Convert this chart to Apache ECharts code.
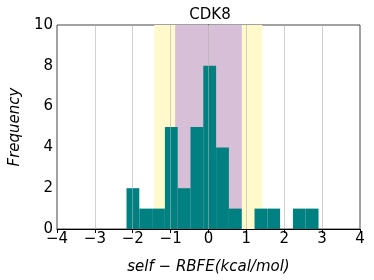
<!DOCTYPE html>
<html><head><meta charset="utf-8">
<script src="https://cdn.jsdelivr.net/npm/echarts@6/dist/echarts.min.js"></script>
<style>html,body{margin:0;padding:0;background:#fff}#c{width:374px;height:280px}</style>
</head><body><div id="c"></div>
<script>
var binEdges = [-2.165, -1.827, -1.489, -1.151, -0.813, -0.475, -0.137, 0.201, 0.539, 0.877, 1.215, 1.553, 1.891, 2.229, 2.567, 2.905];
var counts = [2, 1, 1, 5, 2, 5, 8, 4, 1, 0, 1, 1, 0, 1, 1];
var outerBand = [-1.43, 1.42];
var innerBand = [-0.88, 0.88];
var gridTicks = [-3, -2, -1, 0, 1, 2, 3];
var title = 'CDK8';
var xLabel = 'self \u2212 RBFE(kcal/mol)';
var yLabel = 'Frequency';

var histData = counts.map(function (c, i) { return [binEdges[i], binEdges[i + 1], c]; });

var chart = echarts.init(document.getElementById('c'), null, {renderer: 'canvas'});
var font = 'DejaVu Sans';
chart.setOption({
  animation: false,
  title: {text: title, left: 205, top: 3, textAlign: 'center',
    textStyle: {fontFamily: font, fontSize: 15, fontWeight: 'normal', color: '#000'}},
  grid: {left: 54, right: 14, top: 25, bottom: 49, show: true, borderColor: '#444', borderWidth: 1, backgroundColor: 'transparent'},
  xAxis: {type: 'value', min: -4, max: 4, interval: 1,
    name: xLabel, nameLocation: 'middle', nameGap: 31,
    nameTextStyle: {fontFamily: font, fontSize: 15, fontStyle: 'italic', color: '#000'},
    axisLine: {show: true, onZero: false, lineStyle: {color: '#000', width: 1}},
    axisTick: {show: true, length: 4, lineStyle: {color: '#000'}},
    axisLabel: {fontFamily: font, fontSize: 15, color: '#000', margin: 3,
      formatter: function (v) { return v < 0 ? '\u2212' + Math.abs(v) : String(v); }},
    splitLine: {show: false}},
  yAxis: {type: 'value', min: 0, max: 10, interval: 2,
    name: yLabel, nameLocation: 'middle', nameGap: 32,
    nameTextStyle: {fontFamily: font, fontSize: 15, fontStyle: 'italic', color: '#000'},
    axisLine: {show: true, lineStyle: {color: '#000', width: 1}},
    axisTick: {show: true, length: 4, lineStyle: {color: '#000'}},
    axisLabel: {fontFamily: font, fontSize: 15, color: '#000', margin: 4},
    splitLine: {show: false}},
  series: [
    {type: 'line', data: [], silent: true, z: 1,
      markArea: {silent: true, itemStyle: {color: '#fff9cc'},
        data: [[{xAxis: outerBand[0]}, {xAxis: outerBand[1]}]]}},
    {type: 'line', data: [], silent: true, z: 2,
      markArea: {silent: true, itemStyle: {color: '#d8bfd8'},
        data: [[{xAxis: innerBand[0]}, {xAxis: innerBand[1]}]]}},
    {type: 'custom', z: 3, data: histData,
      renderItem: function (params, api) {
        var p0 = api.coord([api.value(0), api.value(2)]);
        var p1 = api.coord([api.value(1), 0]);
        return {type: 'rect', shape: {x: p0[0], y: p0[1], width: p1[0] - p0[0], height: p1[1] - p0[1]},
          style: {fill: '#008080'}};
      },
      encode: {x: [0, 1], y: 2}},
    {type: 'line', data: [], silent: true, z: 5,
      markLine: {silent: true, symbol: 'none', label: {show: false},
        lineStyle: {color: 'rgba(176,176,176,0.6)', width: 1, type: 'solid'},
        data: gridTicks.map(function (t) { return {xAxis: t}; })}}
  ]
});
</script></body></html>
